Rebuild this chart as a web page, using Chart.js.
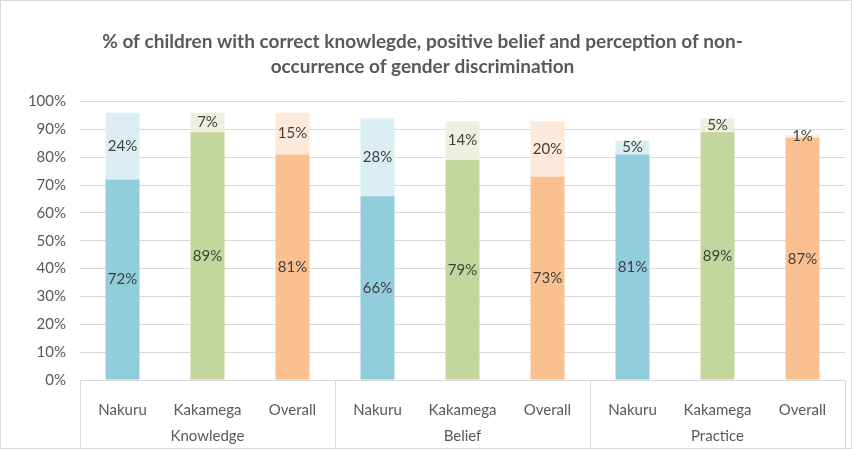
<!DOCTYPE html>
<html>
<head>
<meta charset="utf-8">
<script src="https://cdn.jsdelivr.net/npm/chart.js@4.4.1/dist/chart.umd.min.js"></script>
<style>
  html, body { margin: 0; padding: 0; background: #fff; }
  #wrap { width: 852px; height: 449px; position: relative; }
</style>
</head>
<body>
<div id="wrap"><canvas id="chart"></canvas></div>
<script>
// data
const subLabels = ['Nakuru', 'Kakamega', 'Overall', 'Nakuru', 'Kakamega', 'Overall', 'Nakuru', 'Kakamega', 'Overall'];
const groupLabels = ['Knowledge', 'Belief', 'Practice'];
const correctPct = [72, 89, 81, 66, 79, 73, 81, 89, 87];
const extraPct = [24, 7, 15, 28, 14, 20, 5, 5, 1];
const yTicks = [0, 10, 20, 30, 40, 50, 60, 70, 80, 90, 100];

const baseColors = ['#92CDDC', '#C3D69B', '#FAC090'];
const lightColors = ['#DBEEF3', '#EBF1DE', '#FDE9D9'];

const FONT = "Lato, 'Open Sans', sans-serif";
const TEXT = '#595959';
const GRID = '#D9D9D9';

const colorsFor = pal => subLabels.map((_, i) => pal[i % 3]);

// outer border of the chart
const borderPlugin = {
    id: 'outerBorder',
    beforeDraw(chart) {
        const ctx = chart.ctx;
        ctx.save();
        ctx.strokeStyle = GRID;
        ctx.lineWidth = 1;
        ctx.strokeRect(0.5, 0.5, chart.width - 1, chart.height - 1);
        ctx.restore();
    }
};

// percent labels centred in each segment
const labelPlugin = {
    id: 'segLabels',
    afterDatasetsDraw(chart) {
        const ctx = chart.ctx;
        ctx.save();
        ctx.font = '15px ' + FONT;
        ctx.fillStyle = '#404040';
        ctx.textAlign = 'center';
        ctx.textBaseline = 'middle';
        chart.data.datasets.forEach((ds, di) => {
            chart.getDatasetMeta(di).data.forEach((bar, i) => {
                const { x, y, base } = bar.getProps(['x', 'y', 'base'], true);
                ctx.fillText(ds.data[i] + '%', x, (y + base) / 2);
            });
        });
        ctx.restore();
    }
};

// group labels and separators of the two-level category axis
const groupAxisPlugin = {
    id: 'groupAxis',
    afterDraw(chart) {
        const xs = chart.scales.x;
        const ctx = chart.ctx;
        const top = xs.top;
        const bottom = chart.height;
        const edges = [xs.left];
        for (let g = 1; g < groupLabels.length; g++) {
            edges.push((xs.getPixelForValue(g * 3 - 1) + xs.getPixelForValue(g * 3)) / 2);
        }
        edges.push(xs.right);
        ctx.save();
        ctx.strokeStyle = GRID;
        ctx.lineWidth = 1;
        edges.forEach(ex => {
            const px = Math.round(ex) + 0.5;
            ctx.beginPath();
            ctx.moveTo(px, top);
            ctx.lineTo(px, bottom);
            ctx.stroke();
        });
        ctx.font = '15px ' + FONT;
        ctx.fillStyle = TEXT;
        ctx.textAlign = 'center';
        ctx.textBaseline = 'middle';
        groupLabels.forEach((g, i) => {
            ctx.fillText(g, (edges[i] + edges[i + 1]) / 2, top + 56);
        });
        ctx.restore();
    }
};

new Chart(document.getElementById('chart'), {
    type: 'bar',
    data: {
        labels: subLabels,
        datasets: [
            {
                label: 'correct',
                data: correctPct,
                backgroundColor: colorsFor(baseColors),
                categoryPercentage: 0.4,
                barPercentage: 1
            },
            {
                label: 'extra',
                data: extraPct,
                backgroundColor: colorsFor(lightColors),
                categoryPercentage: 0.4,
                barPercentage: 1
            }
        ]
    },
    options: {
        responsive: true,
        maintainAspectRatio: false,
        animation: false,
        layout: { padding: { left: 0, right: 7, top: 0, bottom: 0 } },
        plugins: {
            legend: { display: false },
            tooltip: { enabled: false },
            title: {
                display: true,
                text: ['% of children with correct knowlegde, positive belief and perception of non-', 'occurrence of gender discrimination'],
                color: TEXT,
                font: { family: FONT, size: 19, weight: 'bold', lineHeight: 1.28 },
                padding: { top: 30, bottom: 23 }
            }
        },
        scales: {
            x: {
                stacked: true,
                grid: { display: false },
                border: { display: true, color: GRID },
                ticks: { color: TEXT, font: { family: FONT, size: 15 }, padding: 13, maxRotation: 0, autoSkip: false },
                afterFit: s => { s.height = 69; }
            },
            y: {
                stacked: true,
                min: 0,
                max: 100,
                afterBuildTicks: s => { s.ticks = yTicks.map(v => ({ value: v })); },
                grid: { color: GRID, drawTicks: false },
                border: { display: false },
                ticks: { color: TEXT, font: { family: FONT, size: 15 }, padding: 14, callback: v => v + '%' },
                afterFit: s => { s.width = 80; }
            }
        }
    },
    plugins: [borderPlugin, labelPlugin, groupAxisPlugin]
});
</script>
</body>
</html>
